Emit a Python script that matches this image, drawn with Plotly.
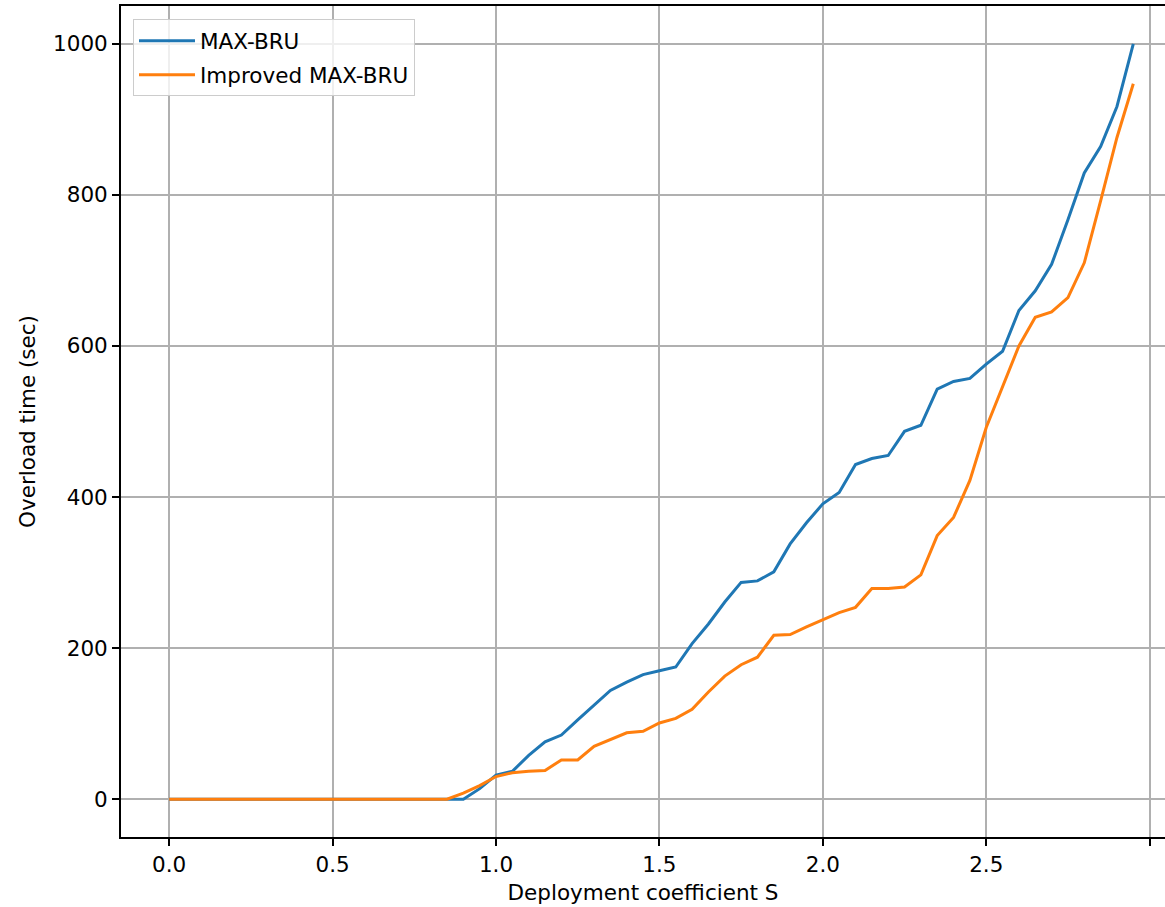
import plotly.graph_objects as go

deployment_s = [0.00, 0.05, 0.10, 0.15, 0.20, 0.25, 0.30, 0.35, 0.40, 0.45,
                0.50, 0.55, 0.60, 0.65, 0.70, 0.75, 0.80, 0.85, 0.90, 0.95,
                1.00, 1.05, 1.10, 1.15, 1.20, 1.25, 1.30, 1.35, 1.40, 1.45,
                1.50, 1.55, 1.60, 1.65, 1.70, 1.75, 1.80, 1.85, 1.90, 1.95,
                2.00, 2.05, 2.10, 2.15, 2.20, 2.25, 2.30, 2.35, 2.40, 2.45,
                2.50, 2.55, 2.60, 2.65, 2.70, 2.75, 2.80, 2.85, 2.90, 2.95]

max_bru = [0, 0, 0, 0, 0, 0, 0, 0, 0, 0,
           0, 0, 0, 0, 0, 0, 0, 0, 0, 14,
           32, 37, 58, 76, 85, 105, 124, 144, 155, 165,
           170, 175, 206, 232, 261, 287, 289, 301, 338, 366,
           391, 406, 443, 451, 455, 487, 495, 543, 553, 557,
           576, 593, 647, 673, 708, 767, 829, 864, 917, 1000]

improved_max_bru = [0, 0, 0, 0, 0, 0, 0, 0, 0, 0,
                    0, 0, 0, 0, 0, 0, 0, 0, 8, 18,
                    30, 35, 37, 38, 52, 52, 70, 79, 88, 90,
                    101, 107, 119, 142, 163, 178, 188, 217, 218, 228,
                    237, 247, 254, 279, 279, 281, 297, 349, 373, 422,
                    492, 545, 600, 638, 645, 664, 710, 792, 876, 947]

x_ticks = [0.0, 0.5, 1.0, 1.5, 2.0, 2.5, 3.0]
x_tick_labels = ["0.0", "0.5", "1.0", "1.5", "2.0", "2.5", "3.0"]
y_ticks = [0, 200, 400, 600, 800, 1000]
y_tick_labels = ["0", "200", "400", "600", "800", "1000"]

FONT = "DejaVu Sans"
FS = 21.5

fig = go.Figure()
fig.add_trace(go.Scatter(x=deployment_s, y=max_bru, mode="lines", name="MAX-BRU",
                         legendgroup="a",
                         line=dict(color="#1f77b4", width=3)))
fig.add_trace(go.Scatter(x=deployment_s, y=improved_max_bru, mode="lines", name="Improved MAX-BRU",
                         legendgroup="b",
                         line=dict(color="#ff7f0e", width=3)))

fig.update_layout(
    width=1165, height=907,
    margin=dict(l=121, r=0, t=6, b=70, autoexpand=False),
    paper_bgcolor="white", plot_bgcolor="white",
    font=dict(family=FONT, size=FS, color="black"),
    showlegend=True,
    legend=dict(x=0.0115, y=0.984, xanchor="left", yanchor="top",
                bgcolor="rgba(255,255,255,0.8)", bordercolor="#cccccc", borderwidth=1,
                font=dict(family=FONT, size=FS, color="black"), itemwidth=56,
                tracegroupgap=3),
)

fig.update_xaxes(
    range=[-0.1475, 3.047], tickmode="array", tickvals=x_ticks, ticktext=x_tick_labels,
    showgrid=True, gridcolor="#b0b0b0", gridwidth=1.5, zeroline=False,
    showline=True, linecolor="black", linewidth=1.8, mirror=True,
    ticks="outside", ticklen=7, tickwidth=1.5, tickcolor="black",
    title=dict(text="Deployment coefficient S", standoff=9, font=dict(family=FONT, size=FS)),
    automargin=False,
)
fig.update_yaxes(
    range=[-50, 1050], tickmode="array", tickvals=y_ticks, ticktext=y_tick_labels,
    showgrid=True, gridcolor="#b0b0b0", gridwidth=1.5, zeroline=False,
    showline=True, linecolor="black", linewidth=1.8, mirror=False,
    ticks="outside", ticklen=7, tickwidth=1.5, tickcolor="black",
    title=dict(text="Overload time (sec)", standoff=12, font=dict(family=FONT, size=FS)),
    automargin=False,
)

fig.write_html("out.html", config={"displayModeBar": False},
               post_script="document.body.style.margin='0';document.body.style.overflow='hidden';")
